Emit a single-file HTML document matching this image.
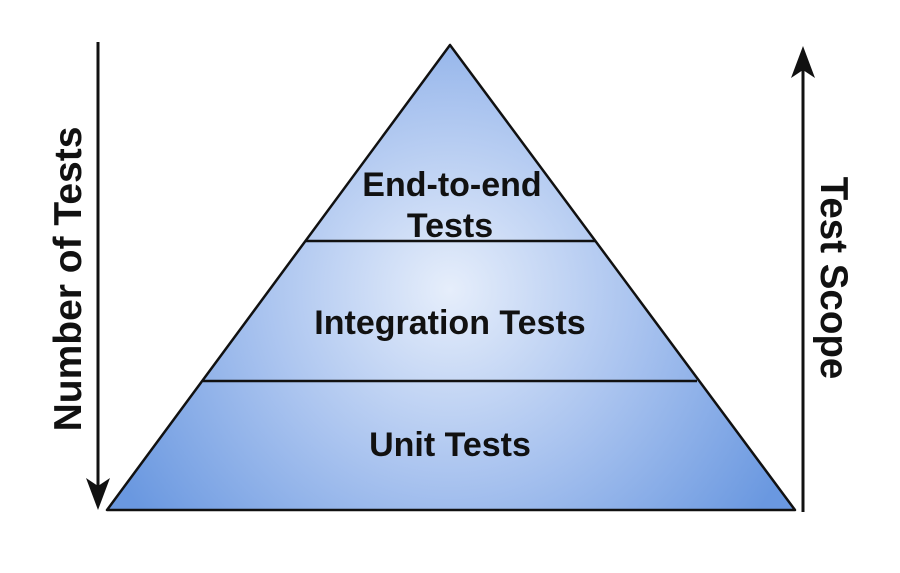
<!DOCTYPE html>
<html><head><style>
html,body{margin:0;padding:0;background:#fff;}
svg{display:block;}
text{font-family:"Liberation Sans",sans-serif;font-weight:bold;fill:#111;}
</style></head><body>
<svg width="900" height="573" viewBox="0 0 900 573">
<defs>
<radialGradient id="g" cx="450" cy="290" r="380" gradientUnits="userSpaceOnUse">
<stop offset="0" stop-color="#e6eefb"/>
<stop offset="0.5" stop-color="#a9c3ef"/>
<stop offset="1" stop-color="#6a98e0"/>
</radialGradient>
</defs>
<polygon points="450,45 107,510 795,510" fill="url(#g)" stroke="#111" stroke-width="2.5" stroke-linejoin="round"/>
<line x1="306" y1="241" x2="596" y2="241" stroke="#111" stroke-width="2.5"/>
<line x1="203" y1="381" x2="697" y2="381" stroke="#111" stroke-width="2.5"/>
<text x="452" y="196" font-size="34" text-anchor="middle">End-to-end</text>
<text x="450" y="237" font-size="34" text-anchor="middle">Tests</text>
<text x="450" y="334" font-size="34" text-anchor="middle">Integration Tests</text>
<text x="450" y="456" font-size="34" text-anchor="middle">Unit Tests</text>
<line x1="98" y1="42" x2="98" y2="490" stroke="#111" stroke-width="3"/>
<polygon points="86,478 98,510 110,478 98,486" fill="#111"/>
<line x1="803" y1="65" x2="803" y2="512" stroke="#111" stroke-width="3"/>
<polygon points="791,78 803,46 815,78 803,70" fill="#111"/>
<text transform="translate(81,279) rotate(-90)" font-size="39" text-anchor="middle">Number of Tests</text>
<text transform="translate(821,278) rotate(90)" font-size="38.5" text-anchor="middle">Test Scope</text>
</svg>
</body></html>
